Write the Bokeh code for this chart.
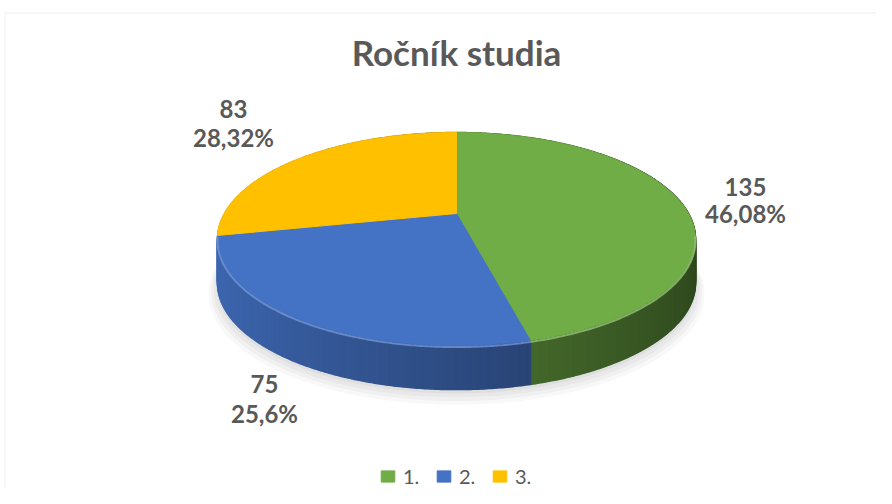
import numpy as np
from bokeh.plotting import figure
from bokeh.models import Range1d, Legend, LegendItem, BoxAnnotation
from bokeh.embed import file_html
from bokeh.resources import INLINE
from bokeh.core.properties import value

# ---------------- data ----------------
title_text = "Ročník studia"
categories = ["1.", "2.", "3."]
counts = [135, 75, 83]
percent_labels = ["46,08%", "25,6%", "28,32%"]
colors = ["#70AD47", "#4472C4", "#FFC000"]

# ---------------- layout (picture pixel coordinates) ----------------
W, H = 876, 488
CX, CY = 456, 213          # projected pie centre
RA, RB, K = 232, 100.4, 0.24   # horizontal / vertical radius, perspective
DEPTH = 44
label_anchor = [(745, 186, 213), (264, 383, 413), (233, 108, 137)]
TITLE_Y = 51
FONT = value("Lato")
GREY = "#595959"


def proj(theta, r=1.0):
    u = np.sin(theta) * r
    v = -np.cos(theta) * r
    d = 1 - K * v
    return CX + RA * u / d, CY + RB * v / d


def scale_col(hexc, f):
    h = hexc.lstrip("#")
    rgb = [int(h[i:i + 2], 16) for i in (0, 2, 4)]
    rgb = [max(0, min(255, int(round(c * f)))) for c in rgb]
    return "#%02x%02x%02x" % tuple(rgb)


def lighten(hexc, f):
    h = hexc.lstrip("#")
    rgb = [int(h[i:i + 2], 16) for i in (0, 2, 4)]
    rgb = [int(round(c + (255 - c) * f)) for c in rgb]
    return "#%02x%02x%02x" % tuple(rgb)


total = float(sum(counts))
fracs = [c / total for c in counts]
bounds = np.concatenate([[0.0], np.cumsum(fracs)]) * 2 * np.pi

p = figure(width=W, height=H, output_backend="svg", toolbar_location=None,
           x_range=Range1d(0, W), y_range=Range1d(H, 0),
           x_axis_location=None, y_axis_location=None, min_border=0,
           background_fill_color="white", border_fill_color="white")
p.grid.visible = False
p.outline_line_color = None

# chart border
p.add_layout(BoxAnnotation(left=4.5, top=12.5, right=5000, bottom=5000,
                           fill_alpha=0, line_color="#d9d9d9", line_width=1.5))

# ---------------- shadow ----------------
tt = np.linspace(0, 2 * np.pi, 361)
for r, dy, a in [(1.035, 9, 0.05), (1.025, 7, 0.06), (1.015, 5, 0.07), (1.005, 3, 0.08)]:
    sx, sy = proj(tt, r)
    p.patch(sx, sy + DEPTH + dy, fill_color="#7f7f7f", fill_alpha=a, line_color=None)

# ---------------- side strips ----------------
strips = []
for i, col in enumerate(colors):
    n = max(2, int(fracs[i] * 720))
    ts = np.linspace(bounds[i], bounds[i + 1], n + 1)
    for a0, a1 in zip(ts[:-1], ts[1:]):
        m = 0.5 * (a0 + a1)
        u = np.sin(m)
        v = -np.cos(m)
        f = 0.66 - 0.25 * u
        x0, y0 = proj(a0)
        x1, y1 = proj(a1)
        strips.append((v, [x0, x1, x1, x0], [y0, y1, y1 + DEPTH, y0 + DEPTH], scale_col(col, f)))
strips.sort(key=lambda s: s[0])
p.patches([s[1] for s in strips], [s[2] for s in strips],
          fill_color=[s[3] for s in strips], line_color=[s[3] for s in strips], line_width=1.5)

# ---------------- top faces ----------------
tops = []
for i, col in enumerate(colors):
    ts = np.linspace(bounds[i], bounds[i + 1], 200)
    ax, ay = proj(ts)
    xs = np.concatenate([[CX], ax])
    ys = np.concatenate([[CY], ay])
    r = p.patch(xs, ys, fill_color=col, line_color=col, line_width=1)
    tops.append(r)

# rim highlight along visible front edge
for i, col in enumerate(colors):
    ts = np.linspace(bounds[i], bounds[i + 1], 200)
    vv = -np.cos(ts)
    ts = ts[vv > 0.2]
    if len(ts) > 1:
        ax, ay = proj(ts)
        p.line(ax, ay + 1.5, line_color=lighten(col, 0.25), line_width=2, line_alpha=0.8)

# ---------------- labels ----------------
p.text(x=[CX], y=[TITLE_Y], text=[title_text], text_font=FONT, text_font_style="bold",
       text_font_size="35px", text_color=GREY, text_align="center", text_baseline="alphabetic")

lx = [a[0] for a in label_anchor]
p.text(x=lx, y=[a[1] for a in label_anchor], text=[str(c) for c in counts], text_font=FONT,
       text_font_style="bold", text_font_size="24px", text_color=GREY,
       text_align="center", text_baseline="alphabetic")
p.text(x=lx, y=[a[2] for a in label_anchor], text=percent_labels, text_font=FONT,
       text_font_style="bold", text_font_size="24px", text_color=GREY,
       text_align="center", text_baseline="alphabetic")

# ---------------- legend ----------------
legend = Legend(items=[LegendItem(label=c, renderers=[r]) for c, r in zip(categories, tops)],
                orientation="horizontal", location=(379, 0),
                glyph_width=17, glyph_height=14, label_standoff=7, spacing=12,
                padding=0, margin=0, border_line_color=None, background_fill_alpha=0,
                label_text_font="Lato", label_text_font_size="20px", label_text_color=GREY)
p.add_layout(legend, "center")

open("out.html", "w").write(file_html(p, INLINE))
